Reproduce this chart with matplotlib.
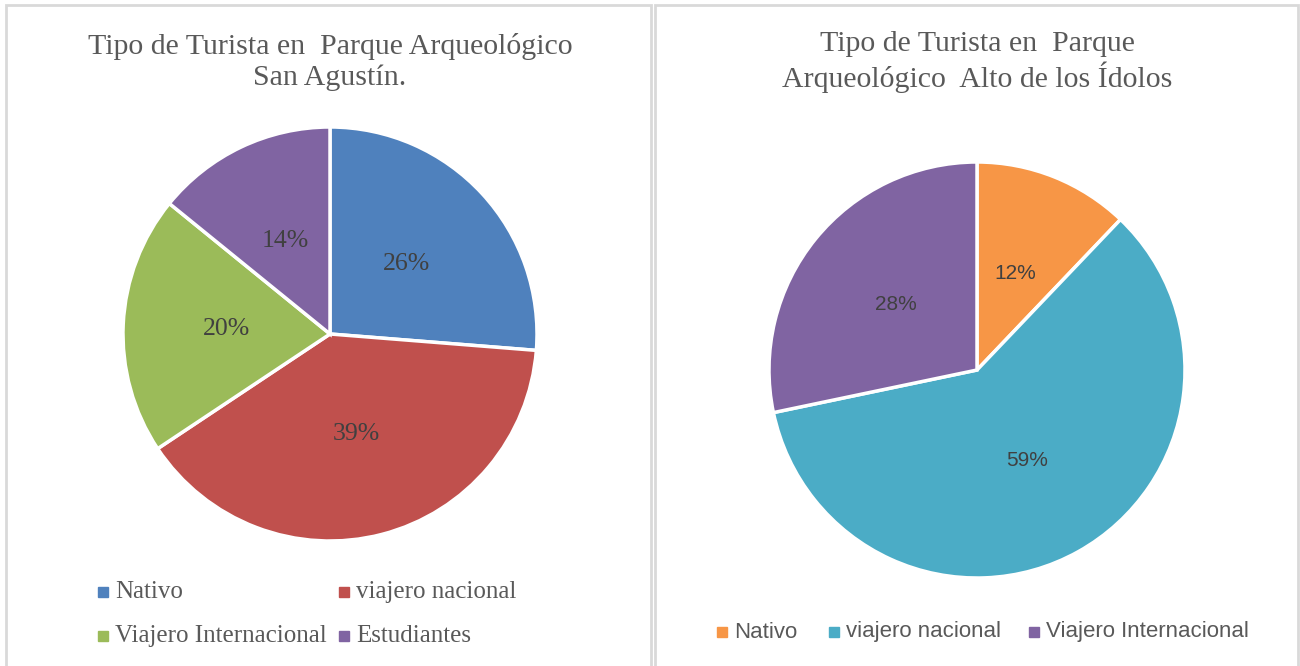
import matplotlib
matplotlib.use("Agg")
import matplotlib.pyplot as plt
from matplotlib.patches import Rectangle
from matplotlib.lines import Line2D

# Data
left_title = "Tipo de Turista en  Parque Arqueológico\nSan Agustín."
left_labels = ["Nativo", "viajero nacional", "Viajero Internacional", "Estudiantes"]
left_values = [26, 39, 20, 14]
left_colors = ["#4F81BD", "#C0504D", "#9BBB59", "#8064A2"]

right_title = "Tipo de Turista en  Parque\nArqueológico  Alto de los Ídolos"
right_labels = ["Nativo", "viajero nacional", "Viajero Internacional"]
right_values = [12, 59, 28]
right_colors = ["#F79646", "#4BACC6", "#8064A2"]

W, H = 1300, 666
fig = plt.figure(figsize=(W / 100, H / 100), dpi=100)
fig.patch.set_facecolor("white")

serif = ["Liberation Serif", "DejaVu Serif"]
sans = ["Liberation Sans", "DejaVu Sans"]
txt = "#595959"
lbl = "#404040"

# panel borders
for x0, x1 in [(6, 651), (655, 1298)]:
    fig.add_artist(Rectangle((x0 / W, -0.05), (x1 - x0) / W, 1 - 5 / H + 0.05,
                             transform=fig.transFigure, fill=False,
                             edgecolor="#D9D9D9", linewidth=2))


def add_pie(cx, cy, r, values, colors, fontfam, fsize):
    ax = fig.add_axes([(cx - r) / W, 1 - (cy + r) / H, 2 * r / W, 2 * r / H])
    wedges, texts, autotexts = ax.pie(
        values, colors=colors, startangle=90, counterclock=False,
        autopct=lambda p: "", pctdistance=0.5,
        wedgeprops=dict(edgecolor="white", linewidth=2.5))
    for at, v in zip(autotexts, values):
        at.set_text(f"{v}%")
        at.set_fontfamily(fontfam)
        at.set_fontsize(fsize)
        at.set_color(lbl)
    ax.set_aspect("equal")
    ax.set_xlim(-1.0, 1.0)
    ax.set_ylim(-1.0, 1.0)
    return ax

add_pie(330, 334, 207, left_values, left_colors, serif, 18.5)
add_pie(977, 370, 208, right_values, right_colors, sans, 15)

# titles
fig.text(330 / W, 1 - 62 / H, left_title, ha="center", va="center",
         fontsize=21.5, family=serif, color=txt, linespacing=1.2)
fig.text(977 / W, 1 - 62 / H, right_title, ha="center", va="center",
         fontsize=21.5, family=serif, color=txt, linespacing=1.2)

# left legend (2 columns)
positions_left = [(103, 592), (344, 592), (103, 636), (344, 636)]
for (x, y), lab, c in zip(positions_left, left_labels, left_colors):
    fig.add_artist(Line2D([x / W], [1 - y / H], marker="s", markersize=6.5,
                          color=c, transform=fig.transFigure))
    fig.text((x + 12) / W, 1 - y / H, lab, ha="left", va="center",
             fontsize=18, family=serif, color=txt)

positions_right = [(722, 632), (834, 632), (1034, 632)]
for (x, y), lab, c in zip(positions_right, right_labels, right_colors):
    fig.add_artist(Line2D([x / W], [1 - y / H], marker="s", markersize=6.5,
                          color=c, transform=fig.transFigure))
    fig.text((x + 12) / W, 1 - y / H, lab, ha="left", va="center",
             fontsize=16, family=sans, color=txt)

fig.savefig("out.png", dpi=100, facecolor="white")
